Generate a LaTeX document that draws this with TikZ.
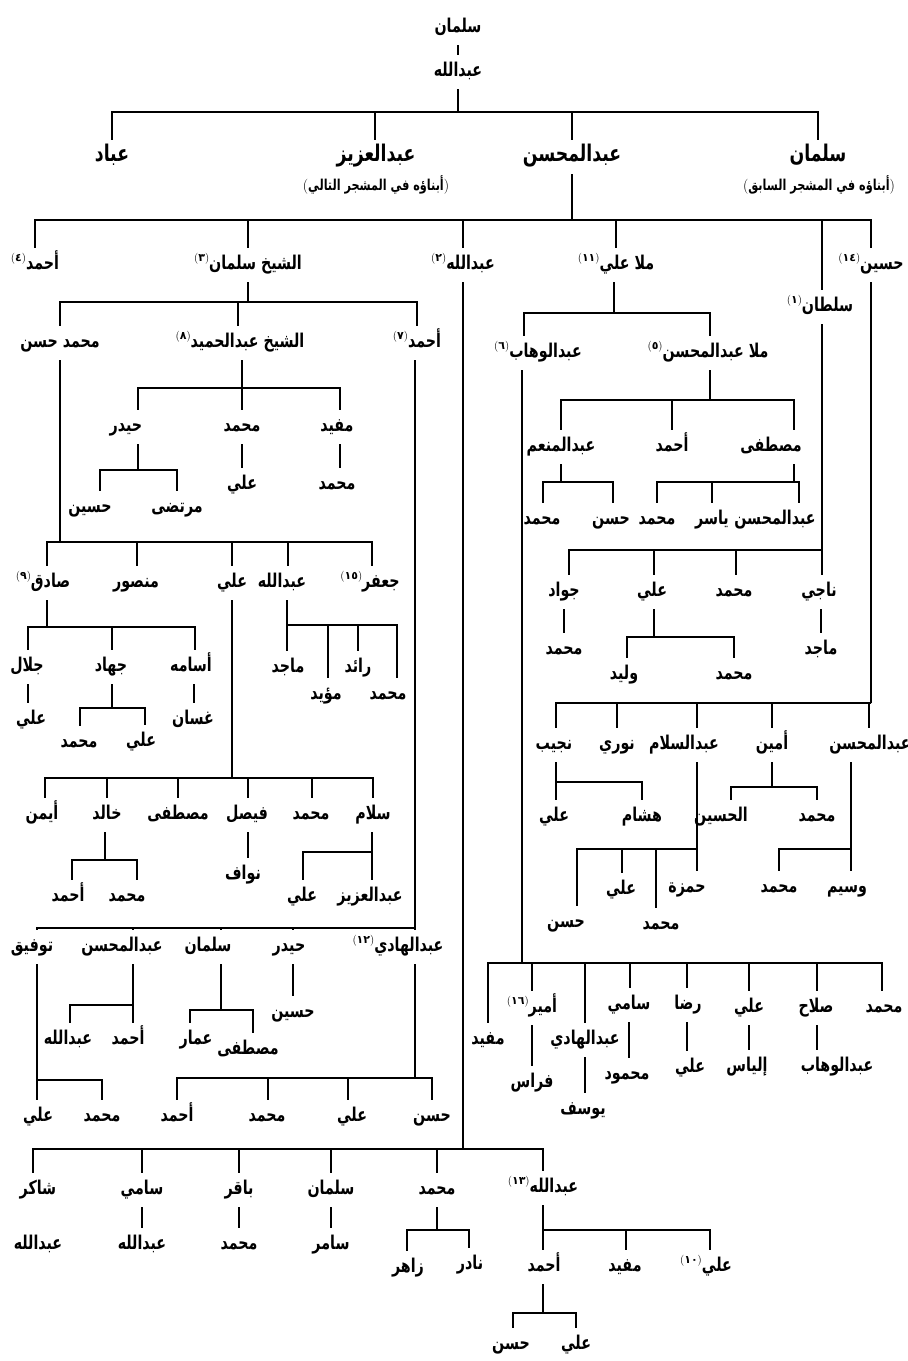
\documentclass[tikz,border=0pt]{standalone}
\usepackage{fontspec}
\TeXXeTstate=1
\newfontfamily\arabicfont[Script=Arabic,FakeStretch=0.75]{DejaVu Sans}
\newfontfamily\digitfont[Script=Arabic]{DejaVu Sans}
\newcommand\namefont{\arabicfont\bfseries\fontsize{19}{22}\selectfont}
\newcommand\bigfont{\arabicfont\bfseries\fontsize{23}{26}\selectfont}
\newcommand\subfont{\arabicfont\bfseries\fontsize{15}{17}\selectfont}
\newcommand\ar[1]{\beginR #1\endR}
\newcommand\fn[1]{\raisebox{8pt}{\normalfont\fontsize{11}{11}\selectfont(\digitfont\bfseries #1\normalfont)}}
\newcommand\paren[1]{{\normalfont(}#1{\normalfont)}}
\tikzset{
  nm/.style={font=\namefont, inner sep=0pt, text height=21pt, text depth=13pt},
  nmbig/.style={nm, font=\bigfont},
  subt/.style={font=\subfont, inner sep=0pt},
  ln/.style={line width=1.6pt}
}
% #1 parent node, #2 x of the parent line, #3 y of the bar, #4 list child/dropx
\newcommand\tree[4]{%
  \draw[ln] (#1.south -| #2,0) -- (#2,#3);
  \foreach \cc/\xx in {#4}{\draw[ln] (#2,#3) -| (\cc.north -| \xx,0);}
}
\newcommand\one[3]{\draw[ln] (#1.south -| #3,0) -- (#2.north -| #3,0);}
\begin{document}
\begin{tikzpicture}[x=1pt,y=-1pt]
\useasboundingbox (0,0) rectangle (908,1361);
% top
\node[nm] (top0) at (458,28) {\ar{سلمان}};
\node[nm] (top1) at (458,72) {\ar{عبدالله}};
\node[nmbig] (a1) at (112,157) {\ar{عباد}};
\node[nmbig] (a2) at (376,157) {\ar{عبدالعزيز}};
\node[subt] (a2s) at (376,185) {\paren{\ar{أبناؤه في المشجر التالي}}};
\node[nmbig] (a3) at (572,157) {\ar{عبدالمحسن}};
\node[nmbig] (a4) at (818,157) {\ar{سلمان}};
\node[subt] (a4s) at (819,185) {\paren{\ar{أبناؤه في المشجر السابق}}};
% level 2
\node[nm] (b1) at (35,265) {\fn{٤}\ar{أحمد}};
\node[nm] (b2) at (248,265) {\fn{٣}\ar{الشيخ سلمان}};
\node[nm] (b3) at (463,265) {\fn{٢}\ar{عبدالله}};
\node[nm] (b4) at (616,265) {\fn{١١}\ar{ملا علي}};
\node[nm] (b5) at (820,307) {\fn{١}\ar{سلطان}};
\node[nm] (b6) at (871,265) {\fn{١٤}\ar{حسين}};
% under الشيخ سلمان
\node[nm] (c1) at (60,343) {\ar{محمد حسن}};
\node[nm] (c2) at (240,343) {\fn{٨}\ar{الشيخ عبدالحميد}};
\node[nm] (c3) at (417,343) {\fn{٧}\ar{أحمد}};
\node[nm] (d1) at (126,427) {\ar{حيدر}};
\node[nm] (d2) at (242,427) {\ar{محمد}};
\node[nm] (d3) at (337,427) {\ar{مفيد}};
\node[nm] (e1) at (90,508) {\ar{حسين}};
\node[nm] (e2) at (177,508) {\ar{مرتضى}};
\node[nm] (e3) at (242,485) {\ar{علي}};
\node[nm] (e4) at (337,485) {\ar{محمد}};
\node[nm] (f1) at (43,583) {\fn{٩}\ar{صادق}};
\node[nm] (f2) at (136,583) {\ar{منصور}};
\node[nm] (f3) at (232,583) {\ar{علي}};
\node[nm] (f4) at (282,583) {\ar{عبدالله}};
\node[nm] (f5) at (370,583) {\fn{١٥}\ar{جعفر}};
\node[nm] (g1) at (27,667) {\ar{جلال}};
\node[nm] (g2) at (111,667) {\ar{جهاد}};
\node[nm] (g3) at (191,667) {\ar{أسامه}};
\node[nm] (g4) at (288,668) {\ar{ماجد}};
\node[nm] (g5) at (326,695) {\ar{مؤيد}};
\node[nm] (g6) at (358,668) {\ar{رائد}};
\node[nm] (g7) at (388,695) {\ar{محمد}};
\node[nm] (h1) at (31,720) {\ar{علي}};
\node[nm] (h2) at (79,743) {\ar{محمد}};
\node[nm] (h3) at (141,742) {\ar{علي}};
\node[nm] (h4) at (193,720) {\ar{غسان}};
\node[nm] (i1) at (42,815) {\ar{أيمن}};
\node[nm] (i2) at (107,815) {\ar{خالد}};
\node[nm] (i3) at (178,815) {\ar{مصطفى}};
\node[nm] (i4) at (247,815) {\ar{فيصل}};
\node[nm] (i5) at (311,815) {\ar{محمد}};
\node[nm] (i6) at (373,815) {\ar{سلام}};
\node[nm] (j1) at (68,897) {\ar{أحمد}};
\node[nm] (j2) at (127,897) {\ar{محمد}};
\node[nm] (j3) at (243,875) {\ar{نواف}};
\node[nm] (j4) at (302,897) {\ar{علي}};
\node[nm] (j5) at (370,897) {\ar{عبدالعزيز}};
\node[nm] (k1) at (32,947) {\ar{توفيق}};
\node[nm] (k2) at (122,947) {\ar{عبدالمحسن}};
\node[nm] (k3) at (208,947) {\ar{سلمان}};
\node[nm] (k4) at (289,947) {\ar{حيدر}};
\node[nm] (k5) at (398,947) {\fn{١٢}\ar{عبدالهادي}};
\node[nm] (l1) at (68,1040) {\ar{عبدالله}};
\node[nm] (l2) at (128,1040) {\ar{أحمد}};
\node[nm] (l3) at (196,1040) {\ar{عمار}};
\node[nm] (l4) at (248,1050) {\ar{مصطفى}};
\node[nm] (l5) at (293,1013) {\ar{حسين}};
\node[nm] (m1) at (38,1117) {\ar{علي}};
\node[nm] (m2) at (102,1117) {\ar{محمد}};
\node[nm] (m3) at (177,1117) {\ar{أحمد}};
\node[nm] (m4) at (267,1117) {\ar{محمد}};
\node[nm] (m5) at (352,1117) {\ar{علي}};
\node[nm] (m6) at (432,1117) {\ar{حسن}};
% under عبدالله (2)
\node[nm] (n1) at (38,1190) {\ar{شاكر}};
\node[nm] (n2) at (142,1190) {\ar{سامي}};
\node[nm] (n3) at (239,1190) {\ar{باقر}};
\node[nm] (n4) at (331,1190) {\ar{سلمان}};
\node[nm] (n5) at (437,1190) {\ar{محمد}};
\node[nm] (n6) at (543,1188) {\fn{١٣}\ar{عبدالله}};
\node[nm] (o1) at (38,1245) {\ar{عبدالله}};
\node[nm] (o2) at (142,1245) {\ar{عبدالله}};
\node[nm] (o3) at (239,1245) {\ar{محمد}};
\node[nm] (o4) at (331,1245) {\ar{سامر}};
\node[nm] (o5) at (408,1268) {\ar{زاهر}};
\node[nm] (o6) at (470,1265) {\ar{نادر}};
\node[nm] (o7) at (544,1267) {\ar{أحمد}};
\node[nm] (o8) at (625,1267) {\ar{مفيد}};
\node[nm] (o9) at (706,1267) {\fn{١٠}\ar{علي}};
\node[nm] (p1) at (511,1345) {\ar{حسن}};
\node[nm] (p2) at (576,1345) {\ar{علي}};
% under ملا علي
\node[nm] (q1) at (538,353) {\fn{٦}\ar{عبدالوهاب}};
\node[nm] (q2) at (708,353) {\fn{٥}\ar{ملا عبدالمحسن}};
\node[nm] (r1) at (561,447) {\ar{عبدالمنعم}};
\node[nm] (r2) at (672,447) {\ar{أحمد}};
\node[nm] (r3) at (771,447) {\ar{مصطفى}};
\node[nm] (s1) at (542,520) {\ar{محمد}};
\node[nm] (s2) at (611,520) {\ar{حسن}};
\node[nm] (s3) at (657,520) {\ar{محمد}};
\node[nm] (s4) at (712,520) {\ar{ياسر}};
\node[nm] (s5) at (775,520) {\ar{عبدالمحسن}};
% under سلطان
\node[nm] (t1) at (564,592) {\ar{جواد}};
\node[nm] (t2) at (652,592) {\ar{علي}};
\node[nm] (t3) at (734,592) {\ar{محمد}};
\node[nm] (t4) at (819,592) {\ar{ناجي}};
\node[nm] (u1) at (564,650) {\ar{محمد}};
\node[nm] (u2) at (821,650) {\ar{ماجد}};
\node[nm] (u3) at (624,675) {\ar{وليد}};
\node[nm] (u4) at (734,675) {\ar{محمد}};
% under حسين
\node[nm] (v1) at (554,745) {\ar{نجيب}};
\node[nm] (v2) at (617,745) {\ar{نوري}};
\node[nm] (v3) at (684,745) {\ar{عبدالسلام}};
\node[nm] (v4) at (772,745) {\ar{أمين}};
\node[nm] (v5) at (870,745) {\ar{عبدالمحسن}};
\node[nm] (w1) at (554,817) {\ar{علي}};
\node[nm] (w2) at (642,817) {\ar{هشام}};
\node[nm] (w3) at (721,817) {\ar{الحسين}};
\node[nm] (w4) at (817,817) {\ar{محمد}};
\node[nm] (w5) at (566,923) {\ar{حسن}};
\node[nm] (w6) at (621,890) {\ar{علي}};
\node[nm] (w7) at (661,925) {\ar{محمد}};
\node[nm] (w8) at (687,888) {\ar{حمزة}};
\node[nm] (w9) at (779,888) {\ar{محمد}};
\node[nm] (w10) at (847,888) {\ar{وسيم}};
% under عبدالوهاب
\node[nm] (x1) at (884,1008) {\ar{محمد}};
\node[nm] (x2) at (816,1008) {\ar{صلاح}};
\node[nm] (x3) at (749,1008) {\ar{علي}};
\node[nm] (x4) at (688,1005) {\ar{رضا}};
\node[nm] (x5) at (629,1005) {\ar{سامي}};
\node[nm] (x6) at (585,1040) {\ar{عبدالهادي}};
\node[nm] (x7) at (532,1008) {\fn{١٦}\ar{أمير}};
\node[nm] (x8) at (488,1040) {\ar{مفيد}};
\node[nm] (y1) at (532,1083) {\ar{فراس}};
\node[nm] (y2) at (583,1110) {\ar{يوسف}};
\node[nm] (y3) at (627,1075) {\ar{محمود}};
\node[nm] (y4) at (690,1068) {\ar{علي}};
\node[nm] (y5) at (747,1067) {\ar{إلياس}};
\node[nm] (y6) at (837,1067) {\ar{عبدالوهاب}};
% connectors
\one{top0}{top1}{458}
\tree{top1}{458}{112}{a1/112,a2/375,a3/572,a4/818}
\tree{a3}{572}{220}{b1/35,b2/248,b3/463,b4/616,b5/822,b6/871}
\tree{b2}{248}{302}{c1/60,c2/238,c3/417}
\tree{c2}{242}{388}{d1/138,d2/242,d3/340}
\tree{d1}{138}{470}{e1/100,e2/177}
\one{d2}{e3}{242}
\one{d3}{e4}{340}
\tree{c1}{60}{542}{f1/47,f2/137,f3/232,f4/288,f5/372}
\tree{f1}{47}{627}{g1/28,g2/112,g3/195}
\one{g1}{h1}{28}
\tree{g2}{112}{708}{h2/80,h3/145}
\one{g3}{h4}{194}
\tree{f4}{287}{625}{g4/287,g5/328,g6/358,g7/397}
\tree{f3}{232}{778}{i1/45,i2/107,i3/178,i4/248,i5/312,i6/373}
\tree{i2}{105}{860}{j1/72,j2/137}
\one{i4}{j3}{248}
\tree{i6}{372}{852}{j4/303,j5/372}
\tree{c3}{415}{928}{k1/37,k2/133,k3/221,k4/293,k5/415}
\tree{k2}{133}{1005}{l1/70,l2/133}
\tree{k3}{221}{1010}{l3/190,l4/253}
\one{k4}{l5}{293}
\tree{k1}{37}{1080}{m1/37,m2/102}
\tree{k5}{415}{1078}{m3/177,m4/268,m5/348,m6/432}
\tree{b3}{463}{1149}{n1/33,n2/142,n3/239,n4/331,n5/437,n6/543}
\one{n2}{o2}{142}
\one{n3}{o3}{239}
\one{n4}{o4}{331}
\tree{n5}{437}{1230}{o5/407,o6/469}
\tree{n6}{543}{1230}{o7/543,o8/626,o9/710}
\tree{o7}{543}{1313}{p1/513,p2/576}
\tree{b4}{614}{313}{q1/524,q2/710}
\tree{q2}{710}{400}{r1/561,r2/672,r3/794}
\tree{r1}{561}{482}{s1/543,s2/613}
\tree{r3}{794}{482}{s3/657,s4/712,s5/799}
\tree{b5}{822}{550}{t1/569,t2/654,t3/736,t4/822}
\one{t1}{u1}{564}
\one{t4}{u2}{821}
\tree{t2}{654}{637}{u3/627,u4/734}
\tree{b6}{871}{703}{v1/556,v2/617,v3/697,v4/772,v5/869}
\tree{v1}{556}{782}{w1/556,w2/642}
\tree{v4}{772}{787}{w3/731,w4/817}
\tree{v3}{697}{849}{w5/577,w6/622,w7/656,w8/697}
\tree{v5}{851}{849}{w9/779,w10/851}
\tree{q1}{522}{963}{x1/882,x2/817,x3/749,x4/687,x5/630,x6/585,x7/532,x8/488}
\one{x7}{y1}{532}
\one{x6}{y2}{585}
\one{x5}{y3}{629}
\one{x4}{y4}{687}
\one{x3}{y5}{749}
\one{x2}{y6}{817}
\end{tikzpicture}
\end{document}
